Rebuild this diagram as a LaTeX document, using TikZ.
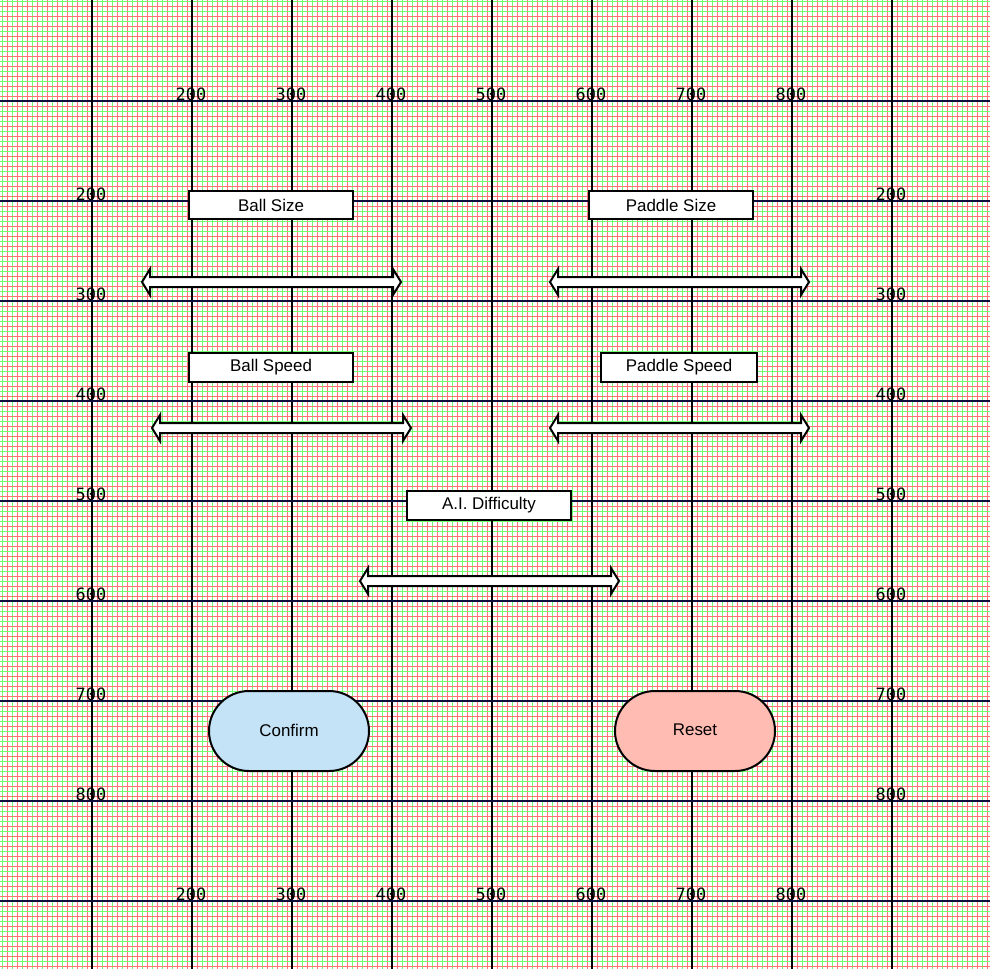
\documentclass[tikz,border=0pt]{standalone}
\usepackage{fontspec}
\setmainfont{Liberation Sans}
\newfontfamily\gridfont{DejaVu Sans Mono}
\definecolor{gridred}{HTML}{FF7070}
\definecolor{gridgreen}{HTML}{70FF70}
\definecolor{majorh}{HTML}{101040}
\definecolor{confirmfill}{HTML}{C4E3F7}
\definecolor{resetfill}{HTML}{FFBCB3}
\tikzset{
  minorg/.style={gridgreen,line width=1bp},
  minorr/.style={gridred,line width=1bp},
  majorv/.style={black,line width=1.25bp},
  majorhl/.style={majorh,line width=1.25bp},
  ticklabel/.style={font=\gridfont\fontsize{17}{17}\selectfont,inner sep=0pt},
  labelbox/.style={draw=black,fill=white,line width=2bp,inner sep=0pt,
    minimum height=28bp,font=\fontsize{17}{17}\selectfont},
  dblarrow/.style={draw=black,fill=white,line width=2bp,line join=miter},
  pill/.style={draw=black,line width=2bp,minimum width=160bp,minimum height=80bp,
    rounded corners=40bp,font=\fontsize{17}{17}\selectfont,inner sep=0pt}
}
\newcommand{\mydblarrow}[3]{%
  \path[dblarrow] (#1,#3) -- ({#1+8},{#3-13}) -- ({#1+8},{#3-5}) -- ({#2-8},{#3-5})
   -- ({#2-8},{#3-13}) -- (#2,#3) -- ({#2-8},{#3+13}) -- ({#2-8},{#3+5})
   -- ({#1+8},{#3+5}) -- ({#1+8},{#3+13}) -- cycle;}
\begin{document}
\begin{tikzpicture}[x=1bp,y=-1bp]
\useasboundingbox (0,0) rectangle (990,969);
\fill[white] (0,0) rectangle (990,969);
% minor grid
\foreach \i in {0,...,98} {
  \draw[minorg] ({2+10*\i},0) -- ({2+10*\i},969);
  \draw[minorr] ({7+10*\i},0) -- ({7+10*\i},969);
}
\foreach \i in {0,...,96} {
  \draw[minorr] (0,{6+10*\i}) -- (990,{6+10*\i});
  \draw[minorg] (0,{1+10*\i}) -- (990,{1+10*\i});
}
% major grid
\foreach \k in {0,...,8} {
  \draw[majorhl] (0,{101+100*\k}) -- (990,{101+100*\k});
  \draw[majorv] ({92+100*\k},0) -- ({92+100*\k},969);
}
% tick labels
\foreach \v in {200,300,...,800} {
  \node[ticklabel] (top\v) at ({\v-9},94) {\v};
  \node[ticklabel] (bot\v) at ({\v-9},894) {\v};
  \node[ticklabel] (lft\v) at (91,{\v-6}) {\v};
  \node[ticklabel] (rgt\v) at (891,{\v-6}) {\v};
}
% label boxes
\node[labelbox,minimum width=164bp] (ballsize) at (271,205) {Ball Size};
\node[labelbox,minimum width=164bp] (paddlesize) at (671,205) {Paddle Size};
\node[labelbox,minimum width=164bp,minimum height=29bp] (ballspeed) at (271,367.5) {Ball Speed};
\node[labelbox,minimum width=156bp,minimum height=29bp] (paddlespeed) at (679,367.5) {Paddle Speed};
\node[labelbox,minimum width=164bp,minimum height=29bp] (aidiff) at (489,505.5) {A.I. Difficulty};
% sliders
\mydblarrow{142}{401}{282}
\mydblarrow{550}{809}{282}
\mydblarrow{152}{411}{428}
\mydblarrow{550}{809}{428}
\mydblarrow{360}{619}{581}
% buttons
\node[pill,fill=confirmfill,text depth=0pt] (confirm) at (289,731) {\raisebox{2pt}{Confirm}};
\node[pill,fill=resetfill,text depth=0pt] (reset) at (695,731) {\raisebox{2pt}{Reset}};
\end{tikzpicture}
\end{document}
